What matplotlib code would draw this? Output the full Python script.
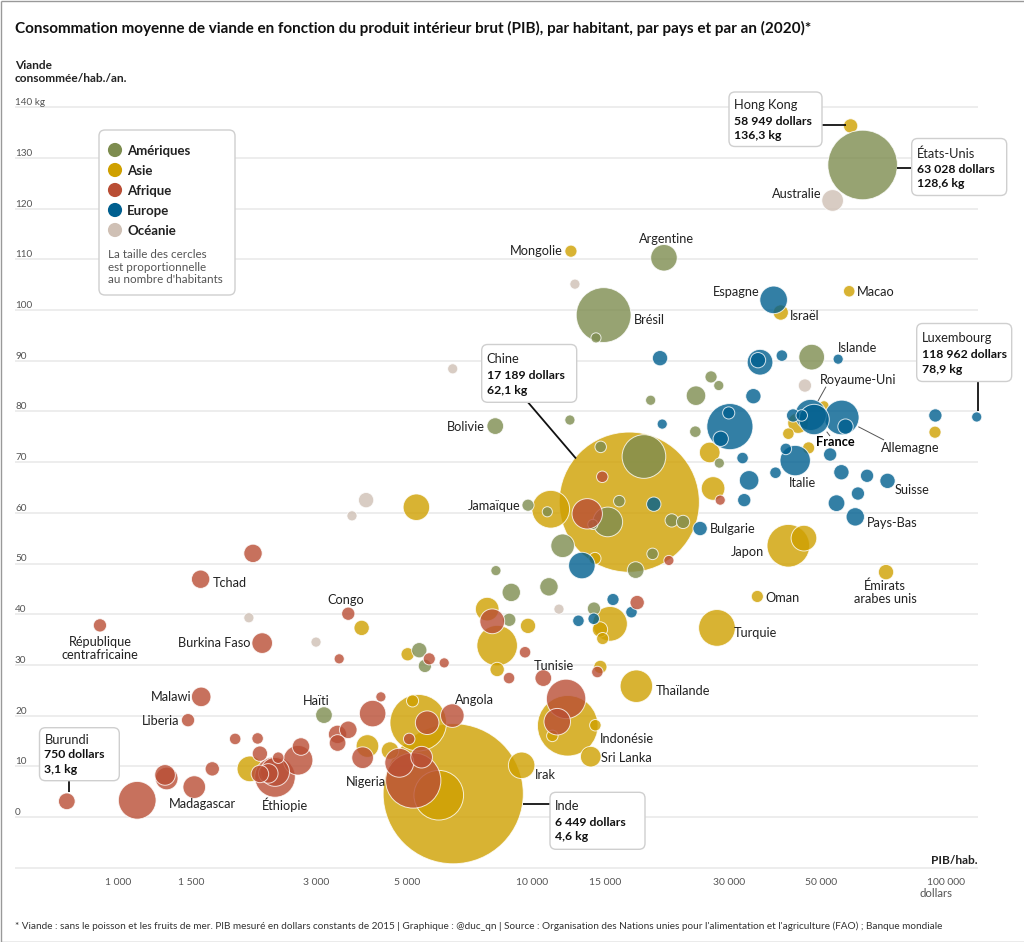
import numpy as np
import matplotlib
matplotlib.use("Agg")
import matplotlib.pyplot as plt
from matplotlib.patches import FancyBboxPatch
from matplotlib.transforms import Affine2D, blended_transform_factory

plt.rcParams['font.family'] = ['Lato', 'DejaVu Sans']

europe_gdp = [118962, 94500, 55000, 40200, 35600, 35200, 34300, 30100, 29900, 28600, 32300, 33500, 32600,
              41100, 38800, 43300, 52600, 56000, 64600, 72400, 61400, 54500, 60500, 25500, 56100, 57300,
              47200, 48100, 42800, 44900, 38400, 20400, 20650, 19700, 13200, 15700, 17400, 12950, 14100]
europe_kg = [78.9, 79.2, 90.3, 91.0, 89.7, 90.1, 83.0, 77.0, 79.7, 74.6, 70.8, 66.4, 62.5,
             72.6, 67.9, 70.3, 71.5, 68.0, 67.3, 66.3, 63.8, 61.9, 59.2, 56.9, 78.8, 77.0,
             79.3, 78.4, 79.2, 79.2, 102.0, 90.5, 77.5, 61.7, 49.6, 42.9, 40.4, 38.7, 39.1]
europe_pop = [7, 12, 7, 9, 45, 16, 16, 145, 10, 16, 9, 26, 12,
              9, 9, 63, 12, 16, 12, 16, 12, 19, 23, 14, 82, 16,
              66, 63, 12, 9, 52, 16, 7, 14, 48, 10, 9, 9, 9]

afrique_gdp = [750, 1110, 1308, 1296, 1525, 1686, 1915, 2170, 2198, 2391, 2391, 2303, 2198, 2434, 2718, 2763,
               1580, 2115, 902, 2226, 1585, 1473, 3595, 3418, 4311, 4117, 3595, 3387, 3387, 3894,
               5162, 4776, 5408, 5578, 5047, 6417, 5644, 6133, 8015, 9620, 8800, 10650, 12090, 11510,
               14390, 17960, 14790, 13600, 21430, 28520]
afrique_kg = [3.1, 3.3, 7.6, 8.3, 5.9, 9.5, 15.4, 15.5, 12.5, 7.9, 8.9, 8.6, 8.5, 11.7, 11.2, 13.9,
              46.9, 52.0, 37.8, 34.3, 23.7, 19.1, 40.1, 31.2, 23.7, 20.4, 17.2, 16.3, 14.6, 11.7,
              7.2, 10.7, 11.8, 18.6, 15.4, 20.0, 31.2, 30.4, 38.6, 32.5, 27.4, 27.4, 23.3, 18.8,
              28.6, 42.3, 67.1, 59.8, 50.6, 62.5]
afrique_pop = [19, 97, 35, 29, 35, 14, 9, 9, 16, 112, 57, 26, 21, 9, 60, 21,
               23, 23, 12, 29, 26, 12, 12, 7, 7, 48, 21, 23, 19, 32,
               208, 57, 32, 38, 9, 38, 10, 7, 42, 9, 9, 19, 106, 48,
               9, 14, 9, 63, 7, 7]

ameriques_gdp = [63028, 20850, 14900, 14280, 47460, 27100, 28290, 24920, 24830, 28380, 19360, 12350, 8150,
                 9780, 10890, 18650, 14660, 16260, 15250, 21770, 23190, 19570, 17810, 11860, 8180,
                 8910, 10990, 14120, 8810, 5338, 5508, 3140, 14030]
ameriques_kg = [128.6, 110.3, 99.0, 94.5, 90.7, 86.8, 85.1, 83.1, 76.0, 69.8, 82.2, 78.3, 77.1,
                61.5, 60.2, 71.1, 73.0, 62.3, 58.2, 58.5, 58.2, 51.9, 48.7, 53.5, 48.6,
                44.3, 45.4, 41.1, 38.9, 32.9, 29.8, 20.1, 57.7]
ameriques_pop = [330, 48, 205, 7, 45, 10, 7, 26, 9, 7, 7, 7, 19,
                 10, 7, 130, 9, 9, 60, 12, 12, 9, 19, 38, 7,
                 23, 23, 12, 12, 16, 12, 19, 7]

asie_gdp = [58949, 58490, 39950, 12420, 94300, 41680, 46660, 41680, 45460, 71800, 35070, 28010, 26900, 27410,
            43990, 50820, 17189, 11100, 14200, 5253, 7792, 8237, 9780, 15440, 14600, 14820, 3873, 5004,
            8237, 14630, 17880, 12200, 14230, 11200, 13870, 9440, 6449, 5950, 5308, 5142, 4000, 4536, 2079]
asie_kg = [136.3, 103.7, 99.5, 111.6, 75.9, 75.6, 72.8, 53.5, 55.0, 48.3, 43.5, 37.3, 71.9, 64.8,
           77.7, 81.1, 62.1, 60.7, 51.0, 61.1, 41.0, 33.8, 37.7, 38.1, 37.0, 35.2, 37.3, 32.1,
           29.1, 29.6, 25.8, 18.0, 18.1, 16.0, 11.9, 10.2, 4.6, 4.3, 18.6, 22.9, 14.0, 13.1, 9.5]
asie_pop = [14, 9, 16, 10, 10, 9, 10, 124, 45, 16, 10, 92, 29, 38,
            29, 7, 1340, 97, 10, 48, 38, 112, 16, 82, 16, 10, 16, 12,
            14, 12, 72, 250, 9, 9, 29, 48, 1340, 168, 218, 10, 35, 21, 45]

oceanie_gdp = [53330, 12700, 6430, 45710, 3970, 3670, 2067, 3004, 11620]
oceanie_kg = [121.6, 105.1, 88.4, 85.1, 62.5, 59.4, 39.3, 34.5, 41.0]
oceanie_pop = [32, 7, 7, 12, 16, 7, 7, 7, 7]

continents = ["Amériques", "Asie", "Afrique", "Europe", "Océanie"]
colors = ["#7d8c4f", "#cfa000", "#b94e35", "#005f8f", "#cfc0b5"]

y_ticks = [0, 10, 20, 30, 40, 50, 60, 70, 80, 90, 100, 110, 120, 130, 140]
x_ticks = [1000, 1500, 3000, 5000, 10000, 15000, 30000, 50000, 100000]
x_labels = ["1 000", "1 500", "3 000", "5 000", "10 000", "15 000", "30 000", "50 000", "100 000"]

W, H = 1024, 942
fig = plt.figure(figsize=(W / 100, H / 100), dpi=100)
ax = fig.add_axes([0, 0, 1, 1])
ax.set_xscale("log")
ax.set_xlim(517, 154800)
ax.set_ylim(-24.65, 161.14)
ax.axis("off")
ax.set_autoscale_on(False)

# coordonnees pixel de l'image, origine en haut a gauche
pix = Affine2D().scale(1, -1).translate(0, H)
x_pix_y_data = blended_transform_factory(pix, ax.transData)
x_data_y_pix = blended_transform_factory(ax.transData, pix)

TEXT = "#222222"
GREY = "#555555"
LS = 9.2


def put(x, y, s, ha="left", size=LS, color=TEXT, weight="normal", z=6):
    ax.text(x, y + 0.7, s, transform=pix, ha=ha, va="center", fontsize=size, color=color, fontweight=weight, zorder=z)


def box(x0, y0, x1, y1, z=5):
    ax.add_patch(FancyBboxPatch((x0, y0), x1 - x0, y1 - y0, boxstyle="round,pad=0,rounding_size=6",
                                transform=pix, fc="white", ec="#cfcfcf", lw=1, zorder=z))


def callout(x0, y0, x1, y1, lines, ys):
    box(x0, y0, x1, y1)
    put(x0 + 5, ys[0], lines[0], size=9.3)
    put(x0 + 5, ys[1], lines[1], size=8.85, weight="bold", color="#111111")
    put(x0 + 5, ys[2], lines[2], size=8.85, weight="bold", color="#111111")


def leader(x0, y0, x1, y1, lw=1.3, color="#111111"):
    ax.plot([x0, x1], [y0, y1], transform=pix, color=color, lw=lw, zorder=4, solid_capstyle="butt")


# cadre gris de l'image
leader(0.5, 0.5, W, 0.5, 1, "#999999")
leader(0.5, 0.5, 0.5, H, 1, "#999999")
leader(0.5, H - 0.5, W, H - 0.5, 1, "#999999")

# grille
ax.hlines(y_ticks + [-10], 15, 978, transform=x_pix_y_data, color="#e8e8e8", lw=1.1, zorder=1)
for v in y_ticks:
    label = "140 kg" if v == 140 else str(v)
    ax.text(15, v + 0.9, label, transform=x_pix_y_data, ha="left", va="center", fontsize=7.2, color=GREY)
for v, label in zip(x_ticks, x_labels):
    ax.text(v, 882.5, label, transform=x_data_y_pix, ha="center", va="center", fontsize=7.5, color=GREY)
put(920, 893, "dollars", size=8.2, color=GREY)

# cercles : Asie dessous, puis Ameriques, Europe, Afrique ; les plus grands dessous dans chaque groupe
all_gdp = np.array(ameriques_gdp + asie_gdp + afrique_gdp + europe_gdp + oceanie_gdp, dtype=float)
all_kg = np.array(ameriques_kg + asie_kg + afrique_kg + europe_kg + oceanie_kg)
all_pop = np.array(ameriques_pop + asie_pop + afrique_pop + europe_pop + oceanie_pop, dtype=float)
groups = [ameriques_gdp, asie_gdp, afrique_gdp, europe_gdp, oceanie_gdp]
draw_rank = [1, 0, 3, 2, 4]
all_col = np.array(sum([[c] * len(g) for c, g in zip(colors, groups)], []))
all_rank = np.array(sum([[r] * len(g) for r, g in zip(draw_rank, groups)], []))
order = np.lexsort((-all_pop, all_rank))
ax.scatter(all_gdp[order], all_kg[order], s=all_pop[order] * 7.6, c=all_col[order], alpha=0.8,
           edgecolors="white", linewidths=0.7, zorder=3)

# titres
put(15, 28, "Consommation moyenne de viande en fonction du produit intérieur brut (PIB), par habitant, par pays et par an (2020)*",
    size=10.97, weight="bold", color="#111111")
put(15, 65, "Viande", size=8.6, weight="bold")
put(15, 78, "consommée/hab./an.", size=8.6, weight="bold")
put(978, 860, "PIB/hab.", ha="right", size=8.6, weight="bold")
put(15, 926, "* Viande : sans le poisson et les fruits de mer. PIB mesuré en dollars constants de 2015 | Graphique : @duc_qn | "
    "Source : Organisation des Nations unies pour l'alimentation et l'agriculture (FAO) ; Banque mondiale",
    size=7.16, color="#333333")

# legende
box(99, 130, 235, 295)
legend_y = [150, 170, 190, 210, 230]
ax.scatter([115] * 5, legend_y, s=[104] * 5, c=colors, transform=pix, zorder=6, linewidths=0)
for name, yy in zip(continents, legend_y):
    put(127, yy, name, size=9.5, weight="bold")
for yy, line in zip([254, 266.5, 279], ["La taille des cercles", "est proportionnelle", "au nombre d'habitants"]):
    put(108, yy, line, size=8.4, color=GREY)

# encadres
callout(729, 92, 822, 146.5, ["Hong Kong", "58 949 dollars", "136,3 kg"], [104, 120.5, 135])
leader(822, 125, 846, 125)
callout(911.7, 138.5, 1006.7, 195.5, ["États-Unis", "63 028 dollars", "128,6 kg"], [153.5, 168.5, 183])
leader(897, 167.5, 911.7, 167.5)
callout(916.7, 323.5, 1011.7, 381.5, ["Luxembourg", "118 962 dollars", "78,9 kg"], [337, 354, 368.5])
leader(978, 381.5, 978, 411)
callout(481.7, 344.5, 576.7, 402.3, ["Chine", "17 189 dollars", "62,1 kg"], [358, 375, 389.5])
leader(528, 402.3, 576, 458.5)
callout(39.5, 727.7, 119.3, 780.7, ["Burundi", "750 dollars", "3,1 kg"], [739, 754, 768.5])
leader(68.5, 780.7, 68.5, 792)
callout(550, 792.3, 645, 849.3, ["Inde", "6 449 dollars", "4,6 kg"], [805.5, 822, 836])
leader(522.5, 804, 550, 804)

# traits fins
leader(826, 386.7, 818, 401, 0.7, "#555555")
leader(858.3, 426.7, 884, 440, 0.7, "#555555")
leader(826.7, 431.7, 830, 436, 0.7, "#555555")

# noms de pays
put(821, 193, "Australie", ha="right")
put(563, 250, "Mongolie", ha="right")
put(666, 238, "Argentine", ha="center")
put(634, 319, "Brésil")
put(760, 291, "Espagne", ha="right")
put(790, 315, "Israël")
put(857, 291, "Macao")
put(838, 347, "Islande")
put(820, 379, "Royaume-Uni")
put(485, 426, "Bolivie", ha="right")
put(520, 505, "Jamaïque", ha="right")
put(816, 441, "France", weight="bold", color="#000000")
put(881, 447, "Allemagne")
put(789, 482.5, "Italie")
put(895, 489, "Suisse")
put(867, 522, "Pays-Bas")
put(710, 528, "Bulgarie")
put(731, 551, "Japon")
put(885, 585, "Émirats", ha="center")
put(885, 598, "arabes unis", ha="center")
put(765, 597.5, "Oman")
put(734, 632, "Turquie")
put(656, 690, "Thaïlande")
put(534, 665, "Tunisie")
put(600, 738, "Indonésie")
put(601, 757.5, "Sri Lanka")
put(535, 774, "Irak")
put(455, 699, "Angola")
put(346, 781, "Nigeria")
put(285, 804, "Éthiopie", ha="center")
put(169, 803, "Madagascar")
put(142, 720, "Liberia")
put(151, 696, "Malawi")
put(303, 700, "Haïti")
put(177.5, 642, "Burkina Faso")
put(100, 641, "République", ha="center")
put(100, 654, "centrafricaine", ha="center")
put(213, 582, "Tchad")
put(327, 599, "Congo")

fig.savefig("out.png", dpi=100, facecolor="white")
